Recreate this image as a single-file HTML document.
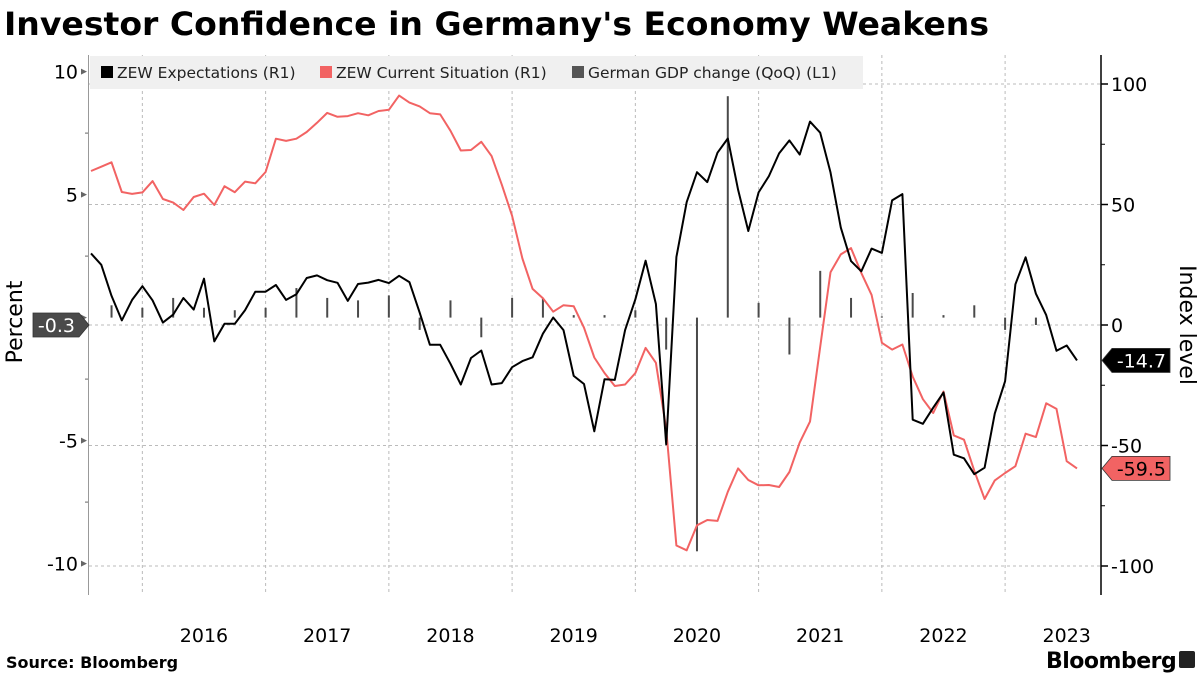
<!DOCTYPE html>
<html><head><meta charset="utf-8">
<style>
html,body{margin:0;padding:0;background:#fff;}
svg{display:block;font-family:"DejaVu Sans","Liberation Sans",sans-serif;}
</style></head>
<body>
<svg id="chart" width="1200" height="675" viewBox="0 0 1200 675" xmlns="http://www.w3.org/2000/svg">
<text x="4" y="35" font-size="32" font-weight="bold" font-family="DejaVu Sans, sans-serif" textLength="985" lengthAdjust="spacingAndGlyphs">Investor Confidence in Germany's Economy Weakens</text>
<g id="grid"></g>
<g id="bars"></g>
<g id="lines"></g>
<g id="axes"></g>
<g>
<rect x="90" y="56" width="773" height="33" fill="#f0f0f0"/>
<g><rect x="101" y="66" width="12" height="12" fill="#000"/><text x="117" y="78" font-size="15.5" fill="#222">ZEW Expectations (R1)</text></g>
<g><rect x="320" y="66" width="12" height="12" fill="#f26363"/><text x="336" y="78" font-size="15.5" fill="#222">ZEW Current Situation (R1)</text></g>
<g><rect x="572" y="66" width="12" height="12" fill="#555"/><text x="588" y="78" font-size="15.5" fill="#222">German GDP change (QoQ) (L1)</text></g>
</g>
<text transform="translate(22,322) rotate(-90)" text-anchor="middle" font-size="22">Percent</text>
<text transform="translate(1180,325) rotate(90)" text-anchor="middle" font-size="22">Index level</text>
<text x="6" y="668" font-size="16" font-weight="bold" font-family="DejaVu Sans, sans-serif">Source: Bloomberg</text>
<text x="1046" y="668" font-size="22" font-weight="bold" font-family="DejaVu Sans, sans-serif" letter-spacing="-0.5">Bloomberg</text>
<rect x="1179" y="651" width="16" height="17" rx="2" fill="#222"/>
</svg>
<script>
const expectations=[29.7,25.0,12.1,1.9,10.4,16.1,
10.2,1.0,4.3,11.2,6.4,19.2,-6.8,0.5,0.5,6.2,13.8,13.8,
16.6,10.4,12.8,19.5,20.6,18.6,17.5,10.0,17.0,17.6,18.7,17.4,
20.4,17.8,5.1,-8.2,-8.2,-16.1,-24.7,-13.7,-10.6,-24.7,-24.1,-17.5,
-15.0,-13.4,-3.6,3.1,-2.1,-21.1,-24.5,-44.1,-22.5,-22.8,-2.1,10.7,
26.7,8.7,-49.5,28.2,51.0,63.4,59.3,71.5,77.4,56.1,39.0,55.0,
61.8,71.2,76.6,70.7,84.4,79.8,63.3,40.4,26.5,22.3,31.7,29.9,
51.7,54.3,-39.3,-41.0,-34.3,-28.0,-53.8,-55.3,-61.9,-59.2,-36.7,-23.3,
16.9,28.1,13.0,4.1,-10.7,-8.5,-14.7];
const currentSituation=[63.9,65.7,67.5,55.2,54.4,55.0,
59.7,52.3,50.8,47.7,53.1,54.5,49.8,57.6,55.1,59.5,58.8,63.5,
77.3,76.4,77.3,80.1,83.9,88.0,86.4,86.7,87.9,87.0,88.8,89.3,
95.2,92.3,90.7,87.9,87.4,80.6,72.4,72.6,76.0,70.1,58.2,45.3,
27.6,15.0,11.1,5.5,8.2,7.8,-1.1,-13.5,-19.9,-25.3,-24.7,-19.9,
-9.5,-15.7,-43.1,-91.5,-93.5,-83.1,-80.9,-81.3,-69.2,-59.5,-64.3,-66.5,
-66.4,-67.2,-61.0,-48.8,-40.1,-9.1,21.9,29.3,31.9,21.6,12.5,-7.4,
-10.2,-8.1,-21.4,-30.8,-36.5,-27.6,-45.8,-47.6,-60.5,-72.2,-64.5,-61.4,
-58.6,-45.1,-46.5,-32.5,-34.8,-56.5,-59.5];
// quarterly GDP QoQ, Q3 2015 .. Q1 2023
const gdp=[0.5,0.4,0.8,0.4,0.3,0.4,1.2,0.8,0.7,0.9,-0.5,0.7,-0.8,0.8,0.8,0.1,0.1,0.3,-1.3,-9.5,9.0,0.6,-1.5,1.9,0.8,0.05,1.0,0.1,0.5,-0.5,-0.3];
const years=["2016","2017","2018","2019","2020","2021","2022","2023"];
const leftTicks=[10,5,0,-5,-10];
const rightTicks=[100,50,0,-50,-100];

const NS="http://www.w3.org/2000/svg";
const X0=91, DX=(1077-91)/96;
const xm=i=>X0+i*DX;                 // month index (0 = Jul 2015)
const yL=v=>317.6-v*24.6;            // left axis (percent)
const yR=v=>325-v*2.41;              // right axis (index)
function mk(tag,attrs,parent){const e=document.createElementNS(NS,tag);for(const k in attrs)e.setAttribute(k,attrs[k]);parent.appendChild(e);return e;}
const grid=document.getElementById('grid'),bars=document.getElementById('bars'),lines=document.getElementById('lines'),axes=document.getElementById('axes');

rightTicks.forEach(v=>{const l=mk('line',{x1:89,x2:1101,y1:yR(v),y2:yR(v),stroke:'#bbb','stroke-dasharray':'3,3','stroke-width':1},grid);

});
years.forEach((y,k)=>{const xs=xm(5+12*k);
const l=mk('line',{x1:xs,x2:xs,y1:55,y2:595,stroke:'#bbb','stroke-dasharray':'3,3','stroke-width':1},grid);


const t=mk('text',{x:xs+DX*6,y:642,'text-anchor':'middle','font-size':19},axes);t.textContent=y;

});

gdp.forEach((v,q)=>{const xs=xm(2+3*q);const y0=yL(0),y1=yL(v);
const r=mk('rect',{x:xs-1,y:Math.min(y0,y1),width:2,height:Math.max(1,Math.abs(y1-y0)),fill:'#4a4a4a'},bars);

});

function line(data,color,name){const p=mk('polyline',{points:data.map((v,i)=>xm(i).toFixed(1)+','+yR(v).toFixed(1)).join(' '),fill:'none',stroke:color,'stroke-width':2,'stroke-linejoin':'round'},lines);

}
line(currentSituation,'#f26363','zew-current-line');
line(expectations,'#000','zew-expectations-line');

const la=mk('line',{x1:88.5,x2:88.5,y1:55,y2:595,stroke:'#999','stroke-width':1},axes);


const ra=mk('line',{x1:1101,x2:1101,y1:55,y2:595,stroke:'#000','stroke-width':1.5},axes);


leftTicks.forEach(v=>{const y=yL(v);
mk('path',{d:`M81 ${y-3} L87 ${y} L81 ${y+3}Z`,fill:'#666'},axes);
if(v!==0){const t=mk('text',{x:78,y:y+7,'text-anchor':'end','font-size':19},axes);t.textContent=String(v);

}});
[7.5,2.5,-2.5,-7.5].forEach(v=>mk('line',{x1:85,x2:88,y1:yL(v),y2:yL(v),stroke:'#666'},axes));
rightTicks.forEach(v=>{const y=yR(v);
mk('line',{x1:1101,x2:1108,y1:y,y2:y,stroke:'#000','stroke-width':1.5},axes);
const t=mk('text',{x:1111,y:y+7,'font-size':19},axes);t.textContent=(v<0?'-':'')+Math.abs(v);

});
[75,25,-25,-75].forEach(v=>mk('line',{x1:1101,x2:1105,y1:yR(v),y2:yR(v),stroke:'#000'},axes));

function tag(x,y,w,fill,tc,txt,name,left){
const d=left?`M${x} ${y} L${x+10} ${y-12} L${x+w} ${y-12} L${x+w} ${y+12} L${x+10} ${y+12}Z`:`M${x} ${y-12} L${x+w-10} ${y-12} L${x+w} ${y} L${x+w-10} ${y+12} L${x} ${y+12}Z`;
const g=mk('g',{},axes);


mk('path',{d:d,fill:fill,stroke:'#333','stroke-width':0.8},g);
const t=mk('text',{x:left?x+w-4:x+w-14,y:y+7,'text-anchor':'end','font-size':19,fill:tc},g);t.textContent=txt;}
tag(33,yL(gdp[gdp.length-1]),56,'#4a4a4a','#fff',gdp[gdp.length-1].toFixed(1),'gdp-last-value-tag',false);
tag(1102,yR(expectations[expectations.length-1]),68,'#000','#fff',expectations[expectations.length-1].toFixed(1),'expectations-last-value-tag',true);
tag(1102,yR(currentSituation[currentSituation.length-1]),68,'#f26363','#000',currentSituation[currentSituation.length-1].toFixed(1),'current-last-value-tag',true);
</script>
</body></html>
